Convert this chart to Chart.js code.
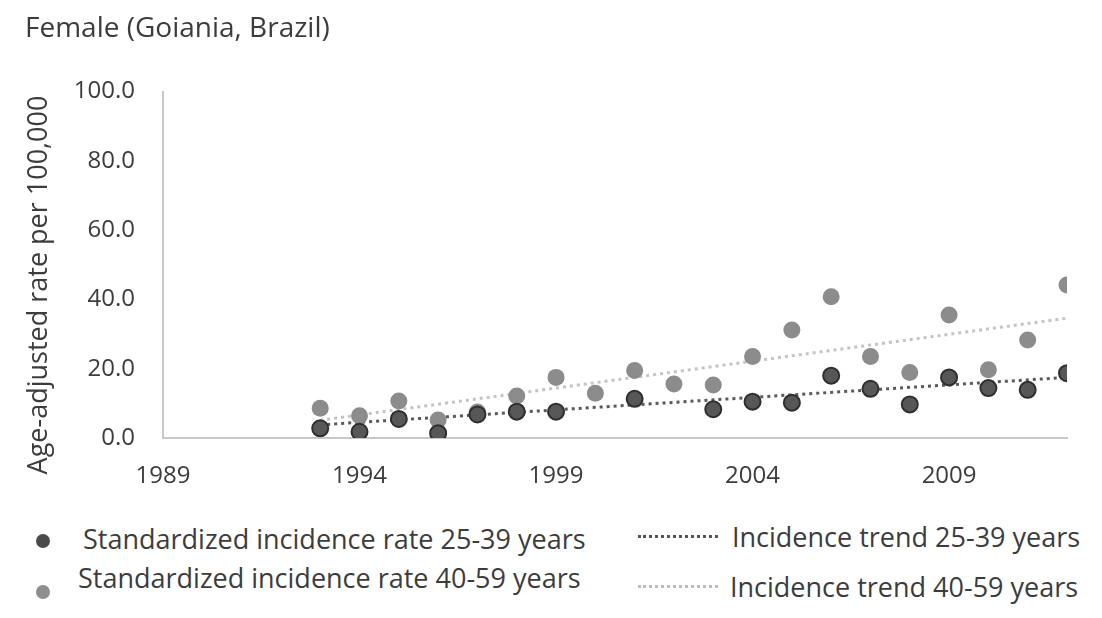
<!DOCTYPE html>
<html>
<head>
<meta charset="utf-8">
<script src="https://cdn.jsdelivr.net/npm/chart.js@4.4.1/dist/chart.umd.min.js"></script>
<style>
  html, body { margin: 0; padding: 0; background: #fff; }
  body { width: 1102px; height: 618px; position: relative; overflow: hidden; font-family: "Open Sans", sans-serif; color: #3c3c3c; }
  #wrap { position: absolute; left: 0; top: 0; width: 1102px; height: 500px; }
  .leg { position: absolute; font-size: 27px; white-space: nowrap; line-height: 32px; }
  .dot { position: absolute; width: 14px; height: 14px; border-radius: 50%; }
  .dash { position: absolute; height: 0; width: 80px; border-top: 3px dotted; }
  #ytitle { position: absolute; left: 36px; top: 285px; font-size: 27px; white-space: nowrap;
            transform: translate(-50%, -50%) rotate(-90deg); }
</style>
</head>
<body>
<div id="wrap"><canvas id="chart" width="1102" height="500"></canvas></div>
<div id="ytitle">Age-adjusted rate per 100,000</div>

<div class="dot" style="left:36px; top:534px; background:#4a4a4a;"></div>
<div class="leg" style="left:83px; top:523px;">Standardized incidence rate 25-39 years</div>
<div class="dash" style="left:638px; top:535px; border-color:#555;"></div>
<div class="leg" style="left:732px; top:521px;">Incidence trend 25-39 years</div>

<div class="dot" style="left:36px; top:585px; background:#8e8e8e;"></div>
<div class="leg" style="left:78px; top:562px;">Standardized incidence rate 40-59 years</div>
<div class="dash" style="left:638px; top:585px; border-color:#bdbdbd;"></div>
<div class="leg" style="left:730px; top:571px;">Incidence trend 40-59 years</div>

<script>
const years = [1993, 1994, 1995, 1996, 1997, 1998, 1999, 2000, 2001, 2002,
               2003, 2004, 2005, 2006, 2007, 2008, 2009, 2010, 2011, 2012];
const rate25to39 = [2.8, 1.8, 5.5, 1.4, 6.8, 7.6, 7.6, null, 11.3, null,
                    8.3, 10.5, 10.2, 18.0, 14.2, 9.7, 17.5, 14.4, 13.9, 18.7];
const rate40to59 = [8.6, 6.4, 10.7, 5.2, 7.5, 12.1, 17.5, 12.9, 19.5, 15.6,
                    15.3, 23.5, 31.2, 40.8, 23.5, 18.9, 35.5, 19.7, 28.3, 44.2];
const trendYears = [1993, 2012];
const trend25to39 = [3.8, 17.5];
const trend40to59 = [5.1, 34.6];
const xTicks = [1989, 1994, 1999, 2004, 2009];
const yTicks = [0, 20, 40, 60, 80, 100];

function toPoints(xs, ys) {
    return xs.map((x, i) => ({ x: x, y: ys[i] })).filter(p => p.y !== null);
}

const ctx = document.getElementById('chart').getContext('2d');
const chart = new Chart(ctx, {
    type: 'scatter',
    data: {
        datasets: [
            {
                label: 'Standardized incidence rate 25-39 years',
                data: toPoints(years, rate25to39),
                backgroundColor: '#575757',
                borderColor: '#2f2f2f',
                borderWidth: 2,
                pointRadius: 8,
                order: 0
            },
            {
                label: 'Standardized incidence rate 40-59 years',
                data: toPoints(years, rate40to59),
                backgroundColor: '#8c8c8c',
                borderColor: '#8c8c8c',
                borderWidth: 0,
                pointRadius: 8.5,
                order: 1
            },
            {
                label: 'Incidence trend 25-39 years',
                data: toPoints(trendYears, trend25to39),
                showLine: true,
                borderColor: '#5a5a5a',
                borderWidth: 3,
                borderDash: [3, 4],
                pointRadius: 0,
                order: 2
            },
            {
                label: 'Incidence trend 40-59 years',
                data: toPoints(trendYears, trend40to59),
                showLine: true,
                borderColor: '#c4c4c4',
                borderWidth: 3,
                borderDash: [3, 4],
                pointRadius: 0,
                order: 3
            }
        ]
    },
    options: {
        responsive: false,
        animation: false,
        layout: { padding: { left: 25, right: 35, top: 0, bottom: 0 } },
        plugins: {
            legend: { display: false },
            tooltip: { enabled: false },
            title: {
                display: true,
                text: 'Female (Goiania, Brazil)',
                align: 'start',
                color: '#3c3c3c',
                font: { family: 'Open Sans', size: 28, weight: 'normal' },
                padding: { top: 12, bottom: 46 }
            }
        },
        scales: {
            x: {
                type: 'linear',
                min: 1989,
                max: 2012,
                afterBuildTicks: axis => { axis.ticks = xTicks.map(v => ({ value: v })); },
                afterFit: axis => { axis.height = 62; },
                grid: { display: false, drawTicks: false },
                border: { color: '#c8c8c8', width: 2 },
                ticks: {
                    color: '#3c3c3c',
                    font: { family: 'Open Sans', size: 24 },
                    padding: 24,
                    maxRotation: 0,
                    callback: v => String(v)
                }
            },
            y: {
                min: 0,
                max: 100,
                afterBuildTicks: axis => { axis.ticks = yTicks.map(v => ({ value: v })); },
                afterFit: axis => { axis.width = 138; },
                grid: { display: false, drawTicks: false },
                border: { color: '#c8c8c8', width: 2 },
                ticks: {
                    color: '#3c3c3c',
                    font: { family: 'Open Sans', size: 24 },
                    padding: 28,
                    callback: v => v.toFixed(1)
                }
            }
        }
    }
});
</script>
</body>
</html>
